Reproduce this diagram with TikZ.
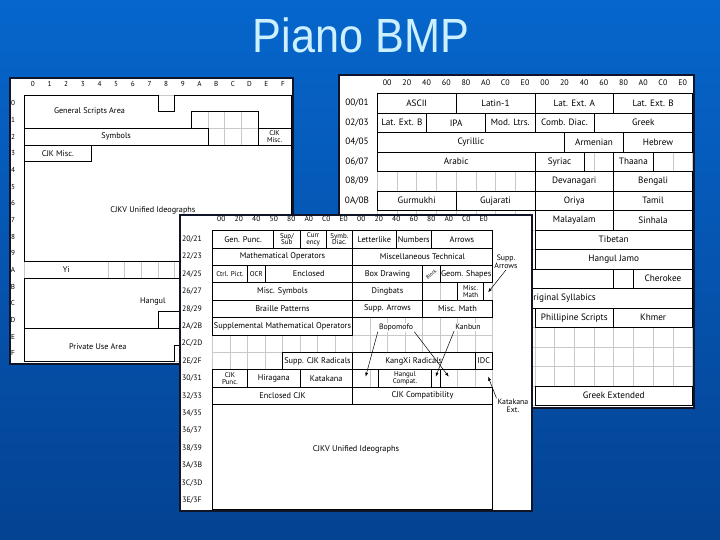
\documentclass[tikz,border=0pt]{standalone}
\usepackage{fontspec}
\setmainfont{PT Sans}
\newfontfamily\titlefont{Liberation Sans}
\usetikzlibrary{arrows.meta}
\definecolor{bgtop}{RGB}{6,102,204}
\definecolor{bgbot}{RGB}{4,66,146}
\definecolor{titlecol}{RGB}{204,240,255}
\definecolor{gridcol}{RGB}{200,200,200}
\definecolor{framecol}{RGB}{16,20,40}

\begin{document}
\begin{tikzpicture}[x=1pt, y=-1pt,
    frame/.style={draw=framecol, fill=white, line width=1.4pt},
    gridln/.style={draw=gridcol, line width=0.5pt},
    shp/.style={draw, fill=white, line width=0.6pt},
    blk/.style={draw, fill=white, line width=0.6pt, inner sep=0pt, outer sep=0pt, anchor=north west, align=center},
    txt/.style={inner sep=0pt, align=center},
    sm/.style={font=\fontsize{7}{6.4}\selectfont},
    note/.style={txt, fill=white, inner sep=1pt, font=\fontsize{7.8}{7.8}\selectfont},
    arr/.style={draw, line width=0.5pt, ->, >={Latex[length=4pt,width=3pt]}}]

  \useasboundingbox (0,0) rectangle (720,540);
  \shade[top color=bgtop, middle color=bgtop, bottom color=bgbot] (0,0) rectangle (720,540);
  \node[font=\titlefont\fontsize{48}{48}\selectfont, text=titlecol, xscale=0.9] (title) at (361,35) {Piano BMP};

  % plane overview
  \draw[frame] (10,78) rectangle (293,364);
  \begin{scope}[shift={(24.5,95)}, x=16.67pt, y=-16.67pt, font=\fontsize{8.2}{8}\selectfont,
      wd/.style={minimum width=#1*16.67pt}, ht/.style={minimum height=#1*16.67pt}]
    \foreach \i in {0,...,16} \draw[gridln] (\i,0) -- (\i,16);
    \foreach \i in {0,...,16} \draw[gridln] (0,\i) -- (16,\i);
    \foreach \lab [count=\i from 0] in {0,1,2,3,4,5,6,7,8,9,A,B,C,D,E,F} {
      \node[txt, font=\fontsize{7.2}{7}\selectfont] (ahc\i) at (\i+0.5,-0.66) {\lab};
      \node[txt, font=\fontsize{7.2}{7}\selectfont] (ahr\i) at (-0.69,\i+0.5) {\lab};
    }
    \draw[shp] (0,0) -- (8,0) -- (8,1) -- (9,1) -- (9,0) -- (16,0) -- (16,2) -- (14,2) -- (14,1) -- (10,1) -- (10,2) -- (0,2) -- cycle;
    \node[txt] (gsa) at (3.9,1) {General Scripts Area};
    \node[blk, wd=11, ht=1] (symbols) at (0,2) {Symbols};
    \node[blk, wd=2, ht=1, sm] (cjkmiscr) at (14,2) {CJK\\Misc.};
    \node[blk, wd=4, ht=1] (cjkmiscl) at (0,3) {CJK Misc.};
    \node[blk, draw=gridcol, wd=5, ht=1] (yi) at (0,10) {Yi};
    \draw[shp] (4,3) -- (16,3) -- (16,10) -- (0,10) -- (0,4) -- (4,4) -- cycle;
    \node[txt] (cjkvone) at (7.7,6.9) {CJKV Unified Ideographs};
    \draw[shp] (0,11) -- (16,11) -- (16,13) -- (8,13) -- (8,14) -- (0,14) -- cycle;
    \node[txt] (hangul) at (7.7,12.4) {Hangul};
    \node[blk, wd=8, ht=1] (surr) at (8,13) {};
    \draw[shp] (0,14) -- (16,14) -- (16,15) -- (9,15) -- (9,16) -- (0,16) -- cycle;
    \node[txt] (pua) at (4.4,15.1) {Private Use Area};
  \end{scope}

  % rows 00 to 1F
  \draw[frame] (339,75) rectangle (694,408);
  \begin{scope}[shift={(377.3,93.5)}, x=19.7pt, y=-19.5pt, font=\fontsize{9.2}{9.2}\selectfont,
      wd/.style={minimum width=#1*19.7pt}, ht/.style={minimum height=#1*19.5pt}]
    \foreach \i in {0,...,16} \draw[gridln] (\i,0) -- (\i,16);
    \foreach \i in {0,...,16} \draw[gridln] (0,\i) -- (16,\i);
    \foreach \lab [count=\i from 0] in {00,20,40,60,80,A0,C0,E0,00,20,40,60,80,A0,C0,E0}
      \node[txt, font=\fontsize{8}{8}\selectfont] (bhc\i) at (\i+0.5,-0.54) {\lab};
    \foreach \lab [count=\i from 0] in {00/01,02/03,04/05,06/07,08/09,0A/0B}
      \node[txt] (bhr\i) at (-1.03,\i+0.5) {\lab};
    \node[blk, wd=4, ht=1] (ascii) at (0,0) {ASCII};
    \node[blk, wd=4, ht=1] (latinone) at (4,0) {Latin-1};
    \node[blk, wd=4, ht=1] (latexta) at (8,0) {Lat. Ext. A};
    \node[blk, wd=4, ht=1] (latextb) at (12,0) {Lat. Ext. B};
    \node[blk, wd=2.5, ht=1] (latextbb) at (0,1) {Lat. Ext. B};
    \node[blk, wd=3, ht=1] (ipa) at (2.5,1) {IPA};
    \node[blk, wd=2.5, ht=1] (modltrs) at (5.5,1) {Mod. Ltrs.};
    \node[blk, wd=3, ht=1] (combdiac) at (8,1) {Comb. Diac.};
    \node[blk, wd=5, ht=1] (greek) at (11,1) {Greek};
    \node[blk, wd=9.5, ht=1] (cyrillic) at (0,2) {Cyrillic};
    \node[blk, wd=3, ht=1] (armenian) at (9.5,2) {Armenian};
    \node[blk, wd=3.5, ht=1] (hebrew) at (12.5,2) {Hebrew};
    \node[blk, wd=8, ht=1] (arabic) at (0,3) {Arabic};
    \node[blk, wd=2.5, ht=1] (syriac) at (8,3) {Syriac};
    \node[blk, wd=2, ht=1] (thaana) at (12,3) {Thaana};
    \node[blk, wd=4, ht=1] (devanagari) at (8,4) {Devanagari};
    \node[blk, wd=4, ht=1] (bengali) at (12,4) {Bengali};
    \node[blk, wd=4, ht=1] (gurmukhi) at (0,5) {Gurmukhi};
    \node[blk, wd=4, ht=1] (gujarati) at (4,5) {Gujarati};
    \node[blk, wd=4, ht=1] (oriya) at (8,5) {Oriya};
    \node[blk, wd=4, ht=1] (tamil) at (12,5) {Tamil};
    \node[blk, wd=4, ht=1] (malayalam) at (8,6) {Malayalam};
    \node[blk, wd=4, ht=1] (sinhala) at (12,6) {Sinhala};
    \node[blk, wd=8, ht=1] (tibetan) at (8,7) {Tibetan};
    \node[blk, wd=8, ht=1] (hanguljamo) at (8,8) {Hangul Jamo};
    \node[blk, wd=12, ht=1] (ethiopic) at (0,9) {};
    \node[blk, wd=3, ht=1] (cherokee) at (13,9) {Cherokee};
    \node[blk, wd=16, ht=1] (syllabics) at (0,10) {};
    \node[txt, anchor=east] (syllabicstxt) at (11.1,10.5) {Aboriginal Syllabics};
    \node[blk, wd=4, ht=1] (philippine) at (8,11) {Phillipine Scripts};
    \node[blk, wd=4, ht=1] (khmer) at (12,11) {Khmer};
    \node[blk, wd=8, ht=1] (greekext) at (8,15) {Greek Extended};
  \end{scope}

  % rows 20 to 3F
  \draw[frame] (180,215) rectangle (532,511);
  \begin{scope}[shift={(212.5,230.5)}, x=17.5pt, y=-17.4pt, font=\fontsize{8.3}{8.3}\selectfont,
      wd/.style={minimum width=#1*17.5pt}, ht/.style={minimum height=#1*17.4pt}]
    \foreach \i in {0,...,16} \draw[gridln] (\i,0) -- (\i,16);
    \foreach \i in {0,...,16} \draw[gridln] (0,\i) -- (16,\i);
    \foreach \lab [count=\i from 0] in {00,20,40,50,80,A0,C0,E0,00,20,40,60,80,A0,C0,E0}
      \node[txt, font=\fontsize{7.5}{7.5}\selectfont] (chc\i) at (\i+0.5,-0.66) {\lab};
    \foreach \lab [count=\i from 0] in {20/21,22/23,24/25,26/27,28/29,2A/2B,2C/2D,2E/2F,30/31,32/33,34/35,36/37,38/39,3A/3B,3C/3D,3E/3F}
      \node[txt, font=\fontsize{7.8}{7.8}\selectfont] (chr\i) at (-1.17,\i+0.5) {\lab};
    \node[blk, wd=3.5, ht=1] (genpunc) at (0,0) {Gen. Punc.};
    \node[blk, wd=1.5, ht=1, sm] (supsub) at (3.5,0) {Sup/\\Sub};
    \node[blk, wd=1.5, ht=1, sm] (currency) at (5,0) {Curr\\ency};
    \node[blk, wd=1.5, ht=1, sm] (symbdiac) at (6.5,0) {Symb.\\Diac.};
    \node[blk, wd=2.5, ht=1] (letterlike) at (8,0) {Letterlike};
    \node[blk, wd=2, ht=1] (numbers) at (10.5,0) {Numbers};
    \node[blk, wd=3.5, ht=1] (arrows) at (12.5,0) {Arrows};
    \node[blk, wd=8, ht=1] (mathop) at (0,1) {Mathematical Operators};
    \node[blk, wd=8, ht=1] (misctech) at (8,1) {Miscellaneous Technical};
    \node[blk, wd=2, ht=1, sm] (ctrlpict) at (0,2) {Ctrl. Pict.};
    \node[blk, wd=1, ht=1, sm] (ocr) at (2,2) {OCR};
    \node[blk, wd=5, ht=1] (enclosed) at (3,2) {Enclosed};
    \node[blk, wd=4, ht=1] (boxdraw) at (8,2) {Box Drawing};
    \node[blk, wd=1, ht=1] (block) at (12,2) {};
    \node[txt, rotate=40, font=\fontsize{5}{5}\selectfont] (blocktxt) at (block) {Block};
    \node[blk, wd=3, ht=1] (geomshapes) at (13,2) {Geom. Shapes};
    \node[blk, wd=8, ht=1] (miscsym) at (0,3) {Misc. Symbols};
    \node[blk, wd=4, ht=1] (dingbats) at (8,3) {Dingbats};
    \node[blk, wd=1.5, ht=1, sm] (miscmatha) at (14,3) {Misc.\\Math};
    \node[blk, wd=8, ht=1] (braille) at (0,4) {Braille Patterns};
    \node[blk, wd=4, ht=1] (supparrows) at (8,4) {Supp. Arrows};
    \node[blk, wd=4, ht=1] (miscmathb) at (12,4) {Misc. Math};
    \node[blk, wd=8, ht=1] (suppmathop) at (0,5) {Supplemental Mathematical Operators};
    \node[blk, wd=4, ht=1] (suppcjkrad) at (4,7) {Supp. CJK Radicals};
    \node[blk, wd=7, ht=1] (kangxi) at (8,7) {KangXi Radicals};
    \node[blk, wd=1, ht=1] (idc) at (15,7) {IDC};
    \node[blk, wd=2, ht=1, sm] (cjkpunc) at (0,8) {CJK\\Punc.};
    \node[blk, wd=3, ht=1] (hiragana) at (2,8) {Hiragana};
    \node[blk, wd=3, ht=1] (katakana) at (5,8) {Katakana};
    \node[blk, wd=3, ht=1, sm] (hangulcompat) at (9.5,8) {Hangul\\Compat.};
    \node[blk, wd=0.5, ht=1] (kanbunbox) at (12.5,8) {};
    \node[blk, wd=8, ht=1] (enclcjk) at (0,9) {Enclosed CJK};
    \node[blk, wd=8, ht=1] (cjkcompat) at (8,9) {CJK Compatibility};
    \node[blk, wd=16, ht=6] (cjkv) at (0,10) {};
    \node[txt] (cjkvtwo) at (8.2,12.6) {CJKV Unified Ideographs};

    % call-outs
    \coordinate (supptip) at (15.75,3.55);
    \coordinate (bopotip) at (8.75,8.4);
    \coordinate (bopoexttip) at (13.5,8.4);
    \coordinate (kanbuntip) at (12.75,8.4);
    \coordinate (katatip) at (15.75,8.4);
    \node[note] (suppar) at (16.77,1.81) {Supp.\\Arrows};
    \node[note] (bopo) at (10.49,5.55) {Bopomofo};
    \node[note] (kanbun) at (14.6,5.55) {Kanbun};
    \node[note] (kataext) at (17.17,10.09) {Katakana\\Ext.};
    \draw[arr] (suppar.south) -- (supptip);
    \draw[arr] (bopo.south west) -- (bopotip);
    \draw[arr] (bopo.south east) -- (bopoexttip);
    \draw[arr] (kanbun.south west) -- (kanbuntip);
    \draw[arr] (kataext.north west) -- (katatip);
  \end{scope}
\end{tikzpicture}
\end{document}
